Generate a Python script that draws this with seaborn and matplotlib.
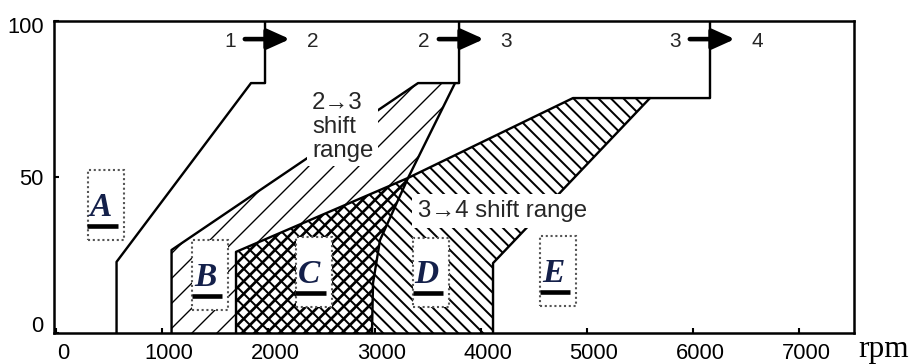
import matplotlib
matplotlib.use("Agg")
import matplotlib.pyplot as plt
import seaborn as sns
from matplotlib.patches import Rectangle
from matplotlib.transforms import ScaledTranslation

# ---------------- data (engine speed in rpm, throttle opening in %) ----------------
x_ticks = [0, 1000, 2000, 3000, 4000, 5000, 6000, 7000]
y_ticks = [0, 50, 100]

# 1 -> 2 upshift line
up12_rpm = [570, 570, 1836, 1968, 1968]
up12_load = [0, 22.8, 80.1, 80.1, 100]

# 2 -> 3 shift range : left / upper boundary (continues as the 2->3 line)
up23_rpm = [1088, 1088, 3409, 3795, 3795]
up23_load = [0, 26.6, 80.1, 80.1, 100]
# 2 -> 3 shift range : right boundary
dn23_rpm = [3757, 3315, 3051, 2985, 2975]
dn23_load = [80.1, 49.7, 29.8, 16.0, 0]

# 3 -> 4 shift range : left / upper boundary (continues as the 3->4 line)
up34_rpm = [1695, 1695, 3315, 4868, 6158, 6158]
up34_load = [0, 26.0, 49.7, 75.3, 75.3, 100]
# 3 -> 4 shift range : right boundary
dn34_rpm = [5593, 4115, 4115]
dn34_load = [75.3, 22.4, 0]

shift_from = ["1", "2", "3"]
shift_to = ["2", "3", "4"]

zone_names = ["A", "B", "C", "D", "E"]
zone_rpm = [466, 1450, 2425, 3531, 4727]
zone_load = [41.0, 18.6, 19.6, 19.4, 19.9]

# ---------------- style ----------------
sns.set_theme(style="white")
plt.rcParams["font.family"] = ["Liberation Sans", "DejaVu Sans"]
plt.rcParams["hatch.color"] = "black"

DPI = 150
fig = plt.figure(figsize=(913 / DPI, 364 / DPI), dpi=DPI)
fig.patch.set_facecolor("white")
ax = fig.add_axes([54 / 913, 31 / 364, 800 / 913, 312 / 364])
ax.set_facecolor("white")


def hatch_poly(xs, ys, hatch, hlw):
    with plt.rc_context({"hatch.linewidth": hlw}):
        p = ax.fill(xs, ys, facecolor="none", edgecolor="black",
                    linewidth=0, hatch=hatch, zorder=1)[0]
    if hasattr(p, "set_hatch_linewidth"):
        p.set_hatch_linewidth(hlw)
    return p


# shift-range areas (built from the boundary arrays)
r23_x = up23_rpm[:3] + dn23_rpm
r23_y = up23_load[:3] + dn23_load
r34_x = up34_rpm[:4] + dn34_rpm
r34_y = up34_load[:4] + dn34_load
ov_x = up34_rpm[:3] + dn23_rpm[2:]
ov_y = up34_load[:3] + dn23_load[2:]

hatch_poly(r23_x, r23_y, "//", 0.65)
hatch_poly(r34_x, r34_y, "\\\\\\\\", 0.95)
hatch_poly(ov_x, ov_y, "////", 1.3)

# boundary lines
for xs, ys in [(up12_rpm, up12_load), (up23_rpm, up23_load), (dn23_rpm, dn23_load),
               (up34_rpm, up34_load), (dn34_rpm, dn34_load)]:
    sns.lineplot(x=xs, y=ys, sort=False, estimator=None, color="black",
                 lw=1.15, ax=ax, zorder=2)

# shift arrows at the top
shift_x = [up12_rpm[-1], up23_rpm[-1], up34_rpm[-1]]
for xs, a, b in zip(shift_x, shift_from, shift_to):
    ax.annotate("", xy=(xs + 235, 94.2), xytext=(xs - 190, 94.2),
                arrowprops=dict(arrowstyle="-|>,head_length=0.6,head_width=0.27",
                                lw=2.2, color="black", shrinkA=0, shrinkB=0,
                                mutation_scale=15), zorder=5)
    ax.text(xs - 330, 93.3, a, ha="center", va="center", fontsize=10, zorder=5)
    ax.text(xs + 445, 93.3, b, ha="center", va="center", fontsize=10, zorder=5)

# range annotations
ax.text(2411, 77.2, "2\u21923\nshift\nrange", ha="left", va="top", fontsize=11.5,
        linespacing=1.1, zorder=3,
        bbox=dict(boxstyle="square,pad=0.2", fc="white", ec="none"))
ax.text(3409, 39.1, "3\u21924 shift range", ha="left", va="center", fontsize=11.5,
        zorder=3, bbox=dict(boxstyle="square,pad=0.25", fc="white", ec="none"))

# zone letters in dotted boxes
box_w, box_h = 339, 22.4
for name, xr, yl in zip(zone_names, zone_rpm, zone_load):
    ax.add_patch(Rectangle((xr - box_w / 2, yl - box_h / 2), box_w, box_h,
                           facecolor="white", edgecolor="#555555", lw=1.0,
                           linestyle=(0, (1, 1.3)), zorder=4))
    ax.text(xr - 47, yl - 0.8, name, fontsize=16, family="Liberation Serif",
            style="italic", weight="bold", color="#14204a", ha="center",
            va="center", zorder=5)
    ax.plot([xr - 170, xr + 113], [yl - 6.7, yl - 6.7], color="black", lw=2.2,
            solid_capstyle="butt", zorder=5)

# axes
ax.set_xlim(-19, 7514)
ax.set_ylim(0, 100)
ax.set_xticks(x_ticks)
ax.set_xticklabels([str(v) for v in x_ticks])
ax.set_yticks(y_ticks)
ax.set_yticklabels([str(v) for v in y_ticks])
ax.set_xlabel("")
ax.set_ylabel("")
ax.tick_params(direction="in", length=2.5, width=1.0, labelsize=10.5, pad=5,
               colors="black", bottom=True, left=True)
for s in ax.spines.values():
    s.set_visible(True)
    s.set_color("black")
    s.set_linewidth(1.2)
    s.set_zorder(6)

dx = ScaledTranslation(7 / DPI, 0, fig.dpi_scale_trans)
for lab in ax.get_xticklabels():
    lab.set_transform(lab.get_transform() + dx)
ylabs = ax.get_yticklabels()
ylabs[0].set_transform(ylabs[0].get_transform() + ScaledTranslation(0, 9 / DPI, fig.dpi_scale_trans))
ylabs[2].set_transform(ylabs[2].get_transform() + ScaledTranslation(0, -4 / DPI, fig.dpi_scale_trans))

ax.text(1.005, -0.077, "rpm", transform=ax.transAxes, ha="left", va="baseline",
        fontsize=15, family="Liberation Serif", color="black")

fig.savefig("out.png", dpi=DPI, facecolor="white")
